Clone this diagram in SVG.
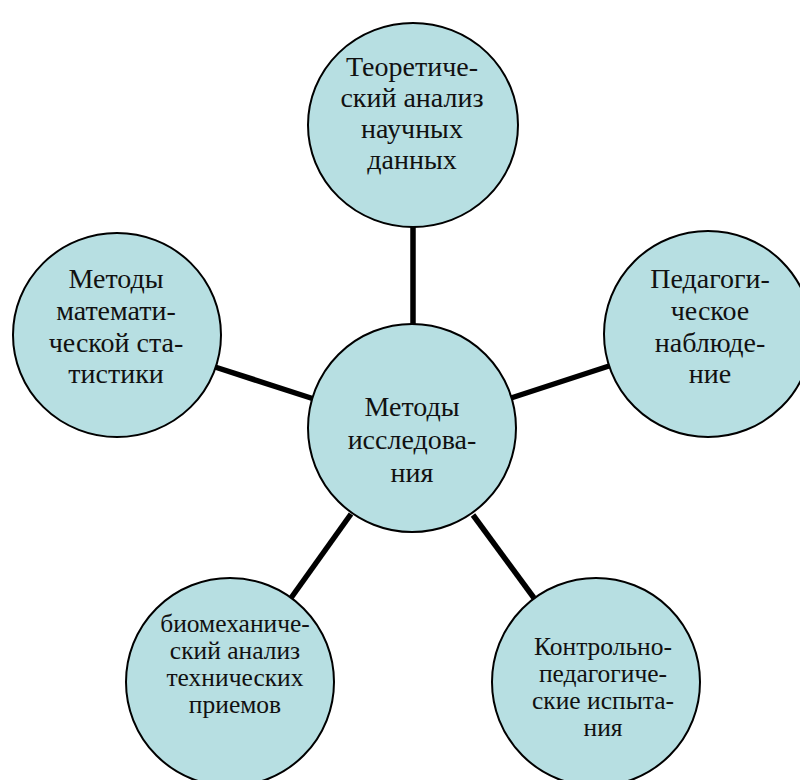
<svg xmlns="http://www.w3.org/2000/svg" width="800" height="780" viewBox="0 0 800 780">
<style>
.node{fill:#B7DFE2;stroke:#000;stroke-width:2}
.conn{stroke:#000;stroke-width:5.5;fill:none}
.lbl{fill:#111;text-anchor:middle}
.big{font-size:28px}
.small{font-size:25.5px}
</style>
<rect width="800" height="780" fill="#fff"/>
<g id="connectors">
<line class="conn" x1="413" y1="224" x2="413" y2="325"/>
<line class="conn" x1="215" y1="367" x2="314" y2="399"/>
<line class="conn" x1="511" y1="398" x2="609" y2="366"/>
<line class="conn" x1="351" y1="514" x2="291" y2="598"/>
<line class="conn" x1="473" y1="515" x2="534" y2="598"/>
</g>
<g id="n-top">
<ellipse class="node" cx="413" cy="125" rx="105" ry="102"/>
<text class="lbl big" font-family="'Liberation Serif', 'DejaVu Serif', serif"><tspan x="412" y="76">Теоретиче-</tspan><tspan x="412" y="107">ский анализ</tspan><tspan x="412" y="138">научных</tspan><tspan x="412" y="169">данных</tspan></text>
</g>
<g id="n-left">
<ellipse class="node" cx="117" cy="335" rx="104" ry="102"/>
<text class="lbl big" font-family="'Liberation Serif', 'DejaVu Serif', serif"><tspan x="116" y="288">Методы</tspan><tspan x="116" y="320">математи-</tspan><tspan x="116" y="352">ческой ста-</tspan><tspan x="116" y="383">тистики</tspan></text>
</g>
<g id="n-right">
<ellipse class="node" cx="708" cy="334" rx="104" ry="103"/>
<text class="lbl big" font-family="'Liberation Serif', 'DejaVu Serif', serif"><tspan x="710" y="288">Педагоги-</tspan><tspan x="710" y="320">ческое</tspan><tspan x="710" y="352">наблюде-</tspan><tspan x="710" y="383">ние</tspan></text>
</g>
<g id="n-center">
<ellipse class="node" cx="412" cy="428" rx="104" ry="104"/>
<text class="lbl big" font-family="'Liberation Serif', 'DejaVu Serif', serif"><tspan x="412" y="416">Методы</tspan><tspan x="412" y="449">исследова-</tspan><tspan x="412" y="482">ния</tspan></text>
</g>
<g id="n-bl">
<ellipse class="node" cx="230" cy="682" rx="104" ry="104"/>
<text class="lbl small" font-family="'Liberation Serif', 'DejaVu Serif', serif"><tspan x="235" y="632">биомеханиче-</tspan><tspan x="235" y="659">ский анализ</tspan><tspan x="235" y="686">технических</tspan><tspan x="235" y="713">приемов</tspan></text>
</g>
<g id="n-br">
<ellipse class="node" cx="596" cy="682" rx="104" ry="104"/>
<text class="lbl small" font-family="'Liberation Serif', 'DejaVu Serif', serif"><tspan x="603" y="655">Контрольно-</tspan><tspan x="603" y="682">педагогиче-</tspan><tspan x="603" y="709">ские испыта-</tspan><tspan x="603" y="736">ния</tspan></text>
</g>
</svg>
